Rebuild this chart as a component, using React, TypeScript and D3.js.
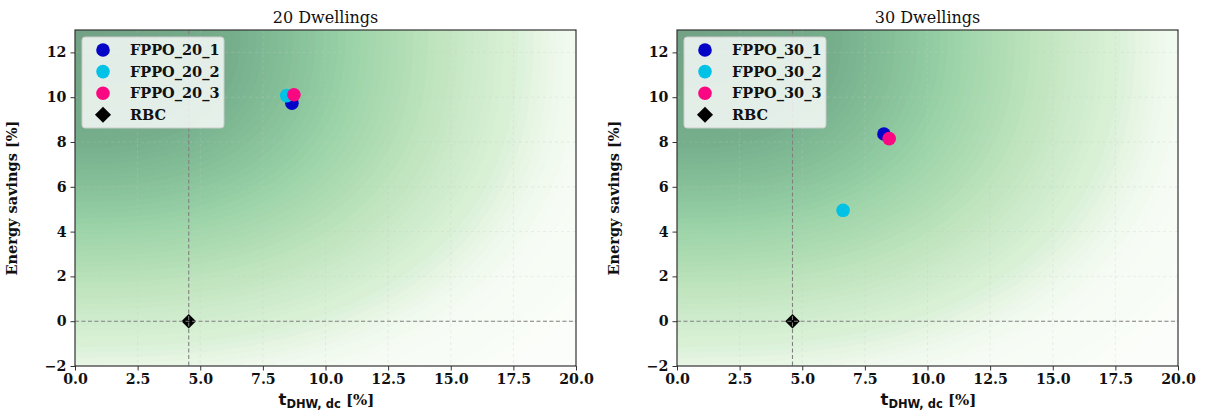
import React, { useEffect, useRef } from 'react';
import * as d3 from 'd3';

// panel titles
const titles = ['20 Dwellings', '30 Dwellings'];

// 20 dwellings
const names20 = ['FPPO_20_1', 'FPPO_20_2', 'FPPO_20_3'];
const tdhw20 = [8.66, 8.45, 8.74];
const savings20 = [9.73, 10.07, 10.11];
const rbc20 = [4.54, 0];

// 30 dwellings
const names30 = ['FPPO_30_1', 'FPPO_30_2', 'FPPO_30_3'];
const tdhw30 = [8.26, 6.63, 8.47];
const savings30 = [8.36, 4.95, 8.15];
const rbc30 = [4.61, 0];

const xTicks = [0, 2.5, 5, 7.5, 10, 12.5, 15, 17.5, 20];
const yTicks = [-2, 0, 2, 4, 6, 8, 10, 12];

const pointColors = ['#0505c8', '#00c2e6', '#fa0882'];

// background shading: distance from top-left corner -> Greens value
const shadeStops = [
  [0, 0.95], [0.3, 0.88], [0.45, 0.72], [0.55, 0.6], [0.65, 0.5],
  [0.75, 0.4], [0.875, 0.28], [0.95, 0.15], [1.02, 0.06], [1.2, 0],
];

const SERIF = '"DejaVu Serif", serif';
const SANS = '"DejaVu Sans", sans-serif';

const W = 1205;
const H = 414;

const drawPanel = (svg, idx, left, right, names, xs, ys, rbc) => {
  const top = 30;
  const bottom = 366;
  const x = d3.scaleLinear().domain([0, 20]).range([left, right]);
  const y = d3.scaleLinear().domain([-2, 13]).range([bottom, top]);

  const g = svg.append('g');

  // shaded background (filled contours, like contourf)
  const nx = 120;
  const ny = 90;
  const p = 2.5;
  const field = new Array(nx * ny);
  for (let j = 0; j < ny; j++) {
    for (let i = 0; i < nx; i++) {
      const xv = ((i + 0.5) / nx) * 20;
      const yv = 13 - ((j + 0.5) / ny) * 15;
      field[j * nx + i] = Math.pow(Math.pow(xv / 20, p) + Math.pow((13 - yv) / 16, p), 1 / p);
    }
  }
  const tone = d3.scaleLinear()
    .domain(shadeStops.map(s => s[0]))
    .range(shadeStops.map(s => s[1]))
    .clamp(true);
  const shade = v => d3.interpolateRgb('#fff', d3.interpolateGreens(tone(v)))(0.55);
  const levels = d3.range(0, 1.3, 0.015);
  const bands = d3.contours().size([nx, ny]).thresholds(levels)(field);

  g.append('rect')
    .attr('x', left).attr('y', top)
    .attr('width', right - left).attr('height', bottom - top)
    .attr('fill', shade(0));

  const clipId = `clip-${idx}`;
  svg.select('defs').append('clipPath').attr('id', clipId)
    .append('rect')
    .attr('x', left).attr('y', top)
    .attr('width', right - left).attr('height', bottom - top);

  g.append('g')
    .attr('clip-path', `url(#${clipId})`)
    .append('g')
    .attr('transform', `translate(${left},${top}) scale(${(right - left) / nx},${(bottom - top) / ny})`)
    .selectAll('path')
    .data(bands)
    .enter().append('path')
    .attr('d', d3.geoPath())
    .attr('fill', d => shade(d.value))
    .attr('stroke', d => shade(d.value))
    .attr('stroke-width', 0.05);

  // grid
  g.selectAll('.gx').data(xTicks.slice(1, -1)).enter().append('line')
    .attr('x1', d => x(d)).attr('x2', d => x(d))
    .attr('y1', top).attr('y2', bottom)
    .attr('stroke', '#c8c8c8').attr('stroke-opacity', 0.35)
    .attr('stroke-width', 0.8).attr('stroke-dasharray', '3,3');
  g.selectAll('.gy').data(yTicks.slice(1)).enter().append('line')
    .attr('x1', left).attr('x2', right)
    .attr('y1', d => y(d)).attr('y2', d => y(d))
    .attr('stroke', '#c8c8c8').attr('stroke-opacity', 0.35)
    .attr('stroke-width', 0.8).attr('stroke-dasharray', '3,3');

  // points
  names.forEach((n, i) => {
    g.append('circle')
      .attr('cx', x(xs[i])).attr('cy', y(ys[i]))
      .attr('r', 6.8)
      .attr('fill', pointColors[i]);
  });

  // RBC diamond
  const sym = d3.symbol().type(d3.symbolDiamond2);
  g.append('path')
    .attr('d', sym.size(135)())
    .attr('transform', `translate(${x(rbc[0])},${y(rbc[1])})`)
    .attr('fill', '#000');

  // reference lines
  g.append('line')
    .attr('x1', x(rbc[0])).attr('x2', x(rbc[0]))
    .attr('y1', top).attr('y2', bottom)
    .attr('stroke', '#808080').attr('stroke-width', 1.1)
    .attr('stroke-dasharray', '4,2.5');
  g.append('line')
    .attr('x1', left).attr('x2', right)
    .attr('y1', y(rbc[1])).attr('y2', y(rbc[1]))
    .attr('stroke', '#808080').attr('stroke-width', 1.1)
    .attr('stroke-dasharray', '4,2.5');

  // legend
  const lx = left + 7;
  const ly = top + 7;
  const leg = g.append('g');
  leg.append('rect')
    .attr('x', lx).attr('y', ly)
    .attr('width', 142).attr('height', 91).attr('rx', 3)
    .attr('fill', '#fff').attr('fill-opacity', 0.8)
    .attr('stroke', '#cccccc').attr('stroke-width', 1);
  const labels = [...names, 'RBC'];
  labels.forEach((lab, i) => {
    const cy = ly + 13 + i * 21.6;
    if (i < 3) {
      leg.append('circle')
        .attr('cx', lx + 21).attr('cy', cy).attr('r', 6.8)
        .attr('fill', pointColors[i]);
    } else {
      leg.append('path')
        .attr('d', sym.size(165)())
        .attr('transform', `translate(${lx + 21},${cy})`)
        .attr('fill', '#000');
    }
    leg.append('text')
      .attr('x', lx + 48).attr('y', cy + 5)
      .attr('font-family', SERIF).attr('font-weight', 'bold')
      .attr('font-size', 14.5).attr('fill', '#111')
      .text(lab);
  });

  // axes
  const xAxis = g.append('g')
    .attr('transform', `translate(0,${bottom})`)
    .call(d3.axisBottom(x).tickValues(xTicks).tickFormat(d3.format('.1f')).tickSize(4.5).tickPadding(3));
  const yAxis = g.append('g')
    .attr('transform', `translate(${left},0)`)
    .call(d3.axisLeft(y).tickValues(yTicks).tickFormat(d => (d < 0 ? '\u2212' + Math.abs(d) : d)).tickSize(4.5).tickPadding(4));
  [xAxis, yAxis].forEach(a => {
    a.select('.domain').remove();
    a.selectAll('.tick line').attr('stroke', '#333').attr('stroke-width', 1);
    a.selectAll('text')
      .attr('font-family', SERIF).attr('font-weight', 'bold')
      .attr('font-size', 14.2).attr('fill', '#111');
  });

  // frame
  g.append('rect')
    .attr('x', left).attr('y', top)
    .attr('width', right - left).attr('height', bottom - top)
    .attr('fill', 'none').attr('stroke', '#333').attr('stroke-width', 1.2);

  // title
  g.append('text')
    .attr('x', (left + right) / 2).attr('y', 23)
    .attr('text-anchor', 'middle')
    .attr('font-family', SERIF).attr('font-size', 16).attr('fill', '#111')
    .text(titles[idx]);

  // x label
  const xl = g.append('text')
    .attr('x', (left + right) / 2 + 1).attr('y', 405)
    .attr('text-anchor', 'middle')
    .attr('font-weight', 'bold').attr('fill', '#111');
  xl.append('tspan').attr('font-family', SANS).attr('font-size', 16.5).text('t');
  xl.append('tspan').attr('font-family', SANS).attr('font-size', 11.5).attr('dy', 3).text('DHW, dc');
  xl.append('tspan').attr('font-family', SERIF).attr('font-size', 15).attr('dy', -3).text('\u00a0[%]');

  // y label
  g.append('text')
    .attr('transform', `translate(${left - 58.5},${(top + bottom) / 2}) rotate(-90)`)
    .attr('text-anchor', 'middle')
    .attr('font-family', SERIF).attr('font-weight', 'bold')
    .attr('font-size', 14.5).attr('fill', '#111')
    .text('Energy savings [%]');
};

const App = () => {
  const svgRef = useRef(null);

  useEffect(() => {
    const svg = d3.select(svgRef.current);
    svg.selectAll('*').remove();
    svg.append('defs');
    svg.append('rect').attr('width', W).attr('height', H).attr('fill', '#fff');

    drawPanel(svg, 0, 75, 576, names20, tdhw20, savings20, rbc20);
    drawPanel(svg, 1, 677, 1178, names30, tdhw30, savings30, rbc30);
  }, []);

  return (
    <svg
      ref={svgRef}
      width={W}
      height={H}
      style={{ position: 'absolute', left: 0, top: 0, display: 'block' }}
    />
  );
};

export default App;
